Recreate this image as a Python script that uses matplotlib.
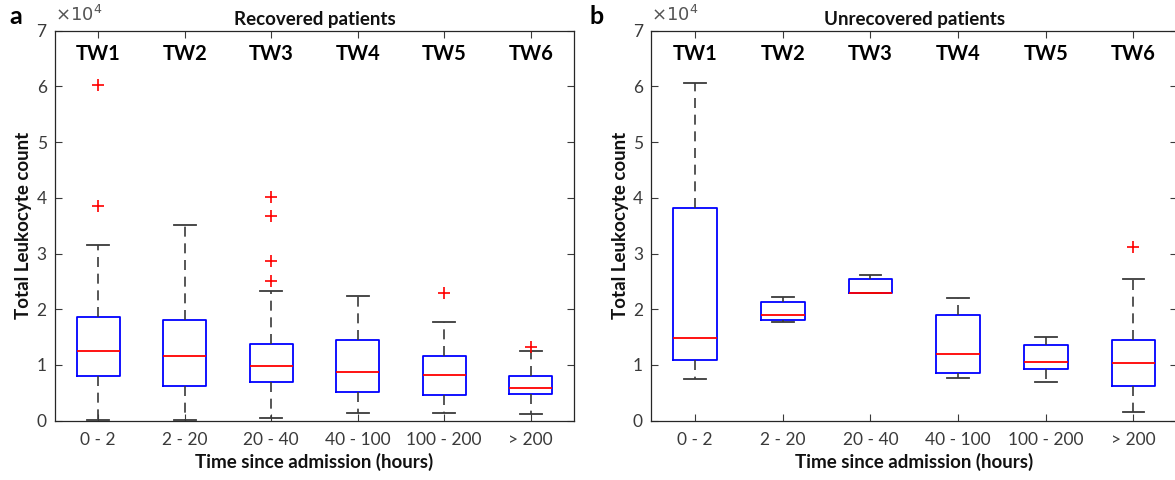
import numpy as np
import matplotlib.pyplot as plt

plt.rcParams['font.family'] = ['Lato', 'DejaVu Sans']

windows = ['TW1', 'TW2', 'TW3', 'TW4', 'TW5', 'TW6']
time_bins = ['0 - 2', '2 - 20', '20 - 40', '40 - 100', '100 - 200', '> 200']

# leukocyte counts in units of 1e4 cells
rec_whislo = [0.02, 0.02, 0.05, 0.14, 0.14, 0.12]
rec_q1 = [0.80, 0.625, 0.70, 0.51, 0.47, 0.48]
rec_med = [1.26, 1.17, 0.99, 0.88, 0.82, 0.59]
rec_q3 = [1.86, 1.80, 1.37, 1.45, 1.17, 0.80]
rec_whishi = [3.16, 3.52, 2.33, 2.24, 1.77, 1.26]
rec_fliers = [[6.02, 3.86], [], [4.01, 3.68, 2.86, 2.50], [], [2.29], [1.33]]

unrec_whislo = [0.745, 1.78, 2.30, 0.77, 0.69, 0.16]
unrec_q1 = [1.095, 1.81, 2.30, 0.86, 0.92, 0.62]
unrec_med = [1.49, 1.90, 2.30, 1.20, 1.06, 1.03]
unrec_q3 = [3.82, 2.13, 2.54, 1.89, 1.35, 1.45]
unrec_whishi = [6.07, 2.22, 2.62, 2.20, 1.51, 2.54]
unrec_fliers = [[], [], [], [], [], [3.11]]

W, H = 1175, 480
fig = plt.figure(figsize=(W / 100, H / 100), dpi=100)

grey = '#3a3a3a'


def make_stats(lo, q1, med, q3, hi, fl):
    return [dict(whislo=a, q1=b, med=c, q3=d, whishi=e, fliers=np.array(f))
            for a, b, c, d, e, f in zip(lo, q1, med, q3, hi, fl)]


def panel(rect, stats, title, letter, letter_xy):
    ax = fig.add_axes(rect)
    pos = np.arange(1, len(stats) + 1)
    ax.bxp(stats, positions=pos, widths=0.5, showfliers=True,
           boxprops=dict(color='#0000ff', linewidth=1.3),
           medianprops=dict(color='#ff0000', linewidth=1.3),
           whiskerprops=dict(color=grey, linewidth=1.2, linestyle=(0, (6, 4))),
           capprops=dict(color=grey, linewidth=1.3),
           capwidths=0.25,
           flierprops=dict(marker='+', markeredgecolor='#ff0000',
                           markersize=8, markeredgewidth=1.2, linestyle='none'))
    ax.set_xlim(0.5, 6.5)
    ax.set_ylim(0, 7)
    ax.set_xticks(pos)
    ax.set_xticklabels(time_bins)
    ax.set_yticks(range(8))
    ax.tick_params(direction='in', length=5, width=0.8, colors=grey,
                   labelsize=12.5, top=True, right=True, pad=8)
    ax.tick_params(axis='y', pad=6)
    for s in ax.spines.values():
        s.set_color('#262626')
        s.set_linewidth(0.9)
    ax.set_xlabel('Time since admission (hours)', fontsize=13.5,
                  fontweight='bold', labelpad=4, color='#111111')
    ax.set_ylabel('Total Leukocyte count', fontsize=13.5,
                  fontweight='bold', labelpad=3, color='#111111')
    ax.set_title(title, fontsize=13.5, fontweight='bold', pad=4, color='#111111')
    for p, tw in zip(pos, windows):
        ax.text(p, 0.94, tw, transform=ax.get_xaxis_transform(),
                ha='center', va='center', fontsize=14.5, fontweight='bold')
    ax.text(0.0, 1.015, r'$\times10^4$', transform=ax.transAxes, ha='left',
            va='bottom', fontsize=13, color='#555555',
            fontfamily='DejaVu Sans')
    fig.text(letter_xy[0] / W, 1 - letter_xy[1] / H, letter,
             fontsize=18, fontweight='bold', ha='left', va='center')
    return ax


ax_h = 390 / H
ax_b = 1 - 420.7 / H
panel([55 / W, ax_b, 519 / W, ax_h],
      make_stats(rec_whislo, rec_q1, rec_med, rec_q3, rec_whishi, rec_fliers),
      'Recovered patients', 'a', (9, 16))
panel([651.3 / W, ax_b, 526 / W, ax_h],
      make_stats(unrec_whislo, unrec_q1, unrec_med, unrec_q3, unrec_whishi,
                 unrec_fliers),
      'Unrecovered patients', 'b', (590, 16))

fig.savefig('out.png', dpi=100)
